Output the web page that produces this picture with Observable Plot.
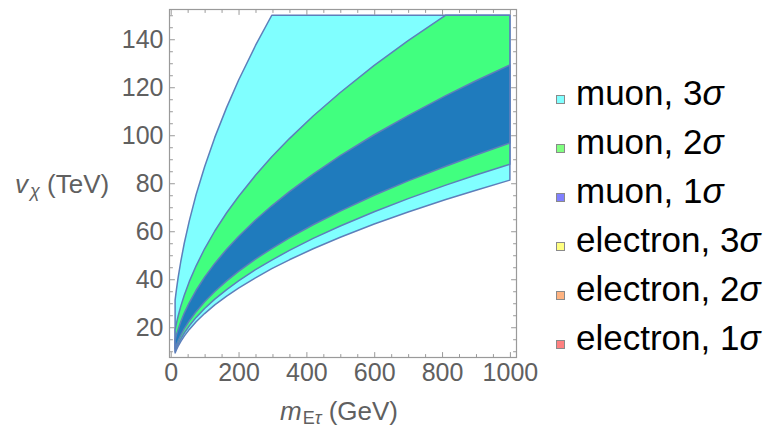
<!DOCTYPE html>
<html>
<head>
<meta charset="utf-8">
<script src="https://cdn.jsdelivr.net/npm/d3@7"></script>
<script src="https://cdn.jsdelivr.net/npm/@observablehq/plot@0.6"></script>
<style>
  html, body { margin: 0; padding: 0; background: #fff; }
  #chart { width: 776px; height: 434px; }
</style>
</head>
<body>
<div id="chart"></div>
<script>
// m_Eτ (GeV) sample positions
const massGeV = [13, 17, 22, 30, 40, 55, 75, 100, 130, 165, 200, 250, 298, 350, 420, 500, 600, 700, 811, 900, 1000];

// v_χ (TeV) boundaries of each region
const muon3Lo = [9.3, 10.6, 12.1, 14.1, 16.3, 19.1, 22.3, 25.7, 29.3, 33.0, 36.3, 40.6, 44.4, 48.1, 52.7, 57.5, 63.0, 68.0, 73.2, 77.1, 81.3];
const muon3Hi = [31.3, 35.8, 40.8, 47.6, 55.0, 64.4, 75.3, 86.9, 99.1, 111.6, 122.9, 137.4, 150, 150, 150, 150, 150, 150, 150, 150, 150];
const muon2Lo = [10.0, 11.5, 13.0, 15.2, 17.6, 20.6, 24.1, 27.8, 31.7, 35.7, 39.3, 44.0, 48.0, 52.0, 57.0, 62.2, 68.1, 73.6, 79.2, 83.4, 87.9];
const muon2Hi = [19.0, 21.7, 24.7, 28.9, 33.3, 39.1, 45.6, 52.7, 60.1, 67.7, 74.5, 83.3, 91.0, 98.6, 108.0, 117.8, 129.1, 139.4, 150, 150, 150];
const muon1Lo = [11.0, 12.6, 14.4, 16.8, 19.4, 22.7, 26.5, 30.6, 34.9, 39.3, 43.3, 48.4, 52.8, 57.2, 62.7, 68.4, 75.0, 81.0, 87.1, 91.8, 96.8];
const muon1Hi = [14.7, 16.9, 19.2, 22.4, 25.9, 30.3, 35.4, 40.9, 46.6, 52.5, 57.8, 64.7, 70.6, 76.5, 83.8, 91.5, 100.2, 108.2, 116.5, 122.7, 129.3];

const regionFills = ["#80ffff", "#41ff7f", "#1f7bbd"];

const xMajorTicks = [0, 200, 400, 600, 800, 1000];
const xMinorTicks = [50, 100, 150, 250, 300, 350, 450, 500, 550, 650, 700, 750, 850, 900, 950];
const yMajorTicks = [20, 40, 60, 80, 100, 120, 140];
const yMinorTicks = [10, 15, 25, 30, 35, 45, 50, 55, 65, 70, 75, 85, 90, 95, 105, 110, 115, 125, 130, 135, 145, 150];

const legendLabels = ["muon, 3", "muon, 2", "muon, 1", "electron, 3", "electron, 2", "electron, 1"];
const legendColors = ["#80ffff", "#80ff80", "#8080ff", "#ffff80", "#ffb380", "#ff8080"];

function band(lo, hi) {
  return massGeV.map((x, i) => ({x, lo: lo[i], hi: hi[i]}));
}

const outline = "#5d7fbb";
const tickGray = "#9a9a9a";
const labelGray = "#606060";
const font = "'Liberation Sans', Arial, sans-serif";

// a plain line tick drawn from the frame edge inward
const tickShape = {draw(ctx, l) { ctx.moveTo(0, 0); ctx.lineTo(0, -l); }};
function frameTicks(values, side, len) {
  const rot = {bottom: 0, top: 180, left: 90, right: -90}[side];
  const opts = {frameAnchor: side, length: len, rotate: rot, anchor: "start", shape: tickShape, stroke: tickGray, strokeWidth: 1};
  return (side === "bottom" || side === "top")
    ? Plot.vectorX(values, {x: d => d, ...opts})
    : Plot.vectorY(values, {y: d => d, ...opts});
}

const svg = Plot.plot({
  width: 776,
  height: 434,
  marginLeft: 169,
  marginRight: 260,
  marginTop: 9,
  marginBottom: 77,
  x: {domain: [-5, 1018]},
  y: {domain: [7.6, 152.6]},
  style: {fontFamily: font, background: "#fff"},
  marks: [
    Plot.areaY(band(muon3Lo, muon3Hi), {x: "x", y1: "lo", y2: "hi", fill: regionFills[0], stroke: outline, strokeWidth: 1.5}),
    Plot.areaY(band(muon2Lo, muon2Hi), {x: "x", y1: "lo", y2: "hi", fill: regionFills[1], stroke: outline, strokeWidth: 1.5}),
    Plot.areaY(band(muon1Lo, muon1Hi), {x: "x", y1: "lo", y2: "hi", fill: regionFills[2], stroke: outline, strokeWidth: 1.5}),
    Plot.frame({stroke: tickGray, strokeWidth: 1.2}),
    Plot.axisX(xMajorTicks, {anchor: "bottom", tickSize: 0, tickPadding: 6, fontSize: 25, color: labelGray, label: null, tickFormat: d => String(d)}),
    Plot.axisY(yMajorTicks, {anchor: "left", tickSize: 0, tickPadding: 6, fontSize: 25, color: labelGray, label: null, tickFormat: d => String(d)}),
    frameTicks(xMajorTicks, "bottom", 5),
    frameTicks(xMinorTicks, "bottom", 3),
    frameTicks(xMajorTicks, "top", 5),
    frameTicks(xMinorTicks, "top", 3),
    frameTicks(yMajorTicks, "left", 5),
    frameTicks(yMinorTicks, "left", 3),
    frameTicks(yMajorTicks, "right", 5),
    frameTicks(yMinorTicks, "right", 3)
  ]
});

const s = d3.select(svg);

// y axis label: v_χ (TeV)
const yl = s.append("text").attr("x", 15).attr("y", 193).attr("text-anchor", "start")
  .attr("font-family", font).attr("font-size", 26).attr("fill", labelGray);
yl.append("tspan").attr("font-style", "italic").text("v");
yl.append("tspan").attr("font-style", "italic").attr("font-size", 18).attr("dx", 2).attr("dy", 4).text("χ");
yl.append("tspan").attr("dy", -4).text(" (TeV)");

// x axis label: m_Eτ (GeV)
const xl = s.append("text").attr("x", 280).attr("y", 420).attr("text-anchor", "start")
  .attr("font-family", font).attr("font-size", 26).attr("fill", labelGray);
xl.append("tspan").attr("font-style", "italic").text("m");
xl.append("tspan").attr("font-size", 18).attr("dx", 1).attr("dy", 4).text("E");
xl.append("tspan").attr("font-size", 18).attr("font-style", "italic").text("τ");
xl.append("tspan").attr("dy", -4).text(" (GeV)");

// legend
const lg = s.append("g");
legendLabels.forEach((lab, i) => {
  const base = 105 + 49 * i;
  lg.append("rect").attr("x", 556.5).attr("y", base - 9.5).attr("width", 8).attr("height", 8)
    .attr("fill", legendColors[i]).attr("stroke", "#8a8a8a").attr("stroke-width", 1);
  const t = lg.append("text").attr("x", 576).attr("y", base).attr("text-anchor", "start")
    .attr("font-family", font).attr("font-size", 35).attr("fill", "#000");
  t.append("tspan").text(lab);
  t.append("tspan").attr("font-style", "italic").text("σ");
});

document.getElementById("chart").appendChild(svg);
</script>
</body>
</html>
